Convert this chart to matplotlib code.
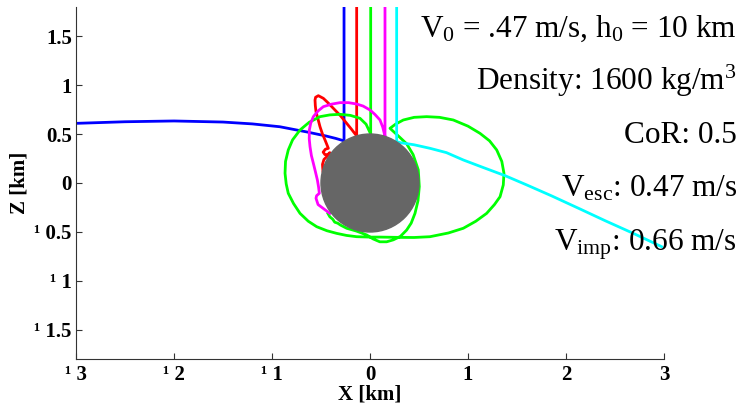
import numpy as np
import matplotlib.pyplot as plt
from matplotlib.patches import Circle

plt.rcParams['font.family'] = ['Liberation Serif', 'DejaVu Serif']
plt.rcParams['mathtext.fontset'] = 'custom'
plt.rcParams['mathtext.rm'] = 'Liberation Serif'
plt.rcParams['mathtext.it'] = 'Liberation Serif:italic'

# trajectories (x, z in km); first point is the drop height
blue_x = [-0.265, -0.265, -0.35, -0.45, -0.64, -0.92, -1.2, -1.5, -2.0, -2.5, -3.05]
blue_z = [10, 0.43, 0.455, 0.48, 0.52, 0.574, 0.603, 0.622, 0.633, 0.625, 0.607]

red_x = [-0.136, -0.136, -0.19, -0.238, -0.30, -0.374, -0.43, -0.476, -0.527, -0.555,
         -0.561, -0.558, -0.551, -0.53, -0.51, -0.485, -0.459, -0.425, -0.455, -0.478,
         -0.46, -0.43, -0.41, -0.44, -0.47, -0.485, -0.48]
red_z = [10, 0.48, 0.55, 0.609, 0.685, 0.762, 0.82, 0.864, 0.891, 0.875,
         0.847, 0.79, 0.728, 0.65, 0.574, 0.50, 0.439, 0.354, 0.345, 0.315,
         0.29, 0.29, 0.31, 0.27, 0.24, 0.19, 0.12]

magenta_x = [0.153, 0.153, 0.13, 0.102, 0.05, 0.0, -0.07, -0.136, -0.22, -0.306, -0.39,
             -0.476, -0.53, -0.578, -0.605, -0.619, -0.62, -0.612, -0.598, -0.578, -0.557,
             -0.537, -0.525, -0.517, -0.545, -0.551, -0.53, -0.49, -0.45, -0.41]
magenta_z = [10, 0.476, 0.57, 0.643, 0.70, 0.745, 0.785, 0.806, 0.82, 0.82, 0.805,
             0.779, 0.735, 0.677, 0.61, 0.541, 0.45, 0.37, 0.28, 0.201, 0.115,
             0.031, -0.04, -0.105, -0.13, -0.156, -0.22, -0.25, -0.28, -0.31]

green_x = [0.007, 0.007, -0.04, -0.102, -0.2, -0.306, -0.41, -0.51, -0.62, -0.714, -0.79,
           -0.834, -0.862, -0.867, -0.855, -0.834, -0.78, -0.714, -0.63, -0.544, -0.44,
           -0.34, -0.24, -0.136, 0.0, 0.102, 0.306, 0.45, 0.612, 0.8, 0.952, 1.08, 1.19,
           1.27, 1.327, 1.36, 1.367, 1.345, 1.293, 1.22, 1.122, 1.0, 0.85, 0.71, 0.578,
           0.45, 0.34, 0.26, 0.204, 0.30, 0.374, 0.44, 0.493, 0.503, 0.49, 0.459, 0.42,
           0.374, 0.31, 0.238, 0.17, 0.1, 0.03, -0.034, -0.14, -0.238, -0.30, -0.33,
           -0.36, -0.38, -0.41, -0.43]
green_z = [10, 0.5, 0.6, 0.66, 0.69, 0.701, 0.695, 0.677, 0.62, 0.541, 0.44,
           0.337, 0.22, 0.099, -0.01, -0.105, -0.21, -0.31, -0.39, -0.446, -0.487,
           -0.514, -0.535, -0.548, -0.552, -0.552, -0.555, -0.556, -0.548, -0.51, -0.462, -0.39, -0.31,
           -0.22, -0.14, -0.02, 0.099, 0.22, 0.337, 0.43, 0.507, 0.58, 0.643, 0.67, 0.677,
           0.67, 0.643, 0.6, 0.558, 0.47, 0.40, 0.29, 0.133, -0.037, -0.18, -0.31, -0.41,
           -0.48, -0.545, -0.58, -0.6, -0.6, -0.57, -0.53, -0.49, -0.462, -0.43, -0.41,
           -0.40, -0.37, -0.345, -0.31]

cyan_x = [0.272, 0.272, 0.306, 0.45, 0.612, 0.78, 0.952, 1.15, 1.378, 1.6, 1.85,
          2.143, 2.4, 2.7, 2.976]
cyan_z = [10, 0.421, 0.412, 0.39, 0.354, 0.31, 0.235, 0.16, 0.075, -0.02, -0.13,
          -0.265, -0.385, -0.52, -0.65]

asteroid_radius = 0.5

info_lines = [r'V$_\mathrm{0}$ = .47 m/s, h$_\mathrm{0}$ = 10 km',
              r'Density: 1600 kg/m$^\mathrm{3}$',
              'CoR: 0.5',
              r'V$_\mathrm{esc}$: 0.47 m/s',
              r'V$_\mathrm{imp}$: 0.66 m/s']

x_ticks = [-3, -2, -1, 0, 1, 2, 3]
x_labels = ['\u00b9 3', '\u00b9 2', '\u00b9 1', '0', '1', '2', '3']
y_ticks = [-1.5, -1, -0.5, 0, 0.5, 1, 1.5]
y_labels = ['\u00b9 1.5', '\u00b9 1', '\u00b9 0.5', '0', '0.5', '1', '1.5']

W, H = 743, 409
fig = plt.figure(figsize=(W / 100, H / 100), dpi=100)
ax = fig.add_axes([76 / W, 1 - 359 / H, 588 / W, 352 / H])

lw = 2.0
ax.plot(blue_x, blue_z, color=(0, 0, 1), lw=lw)
ax.plot(red_x, red_z, color=(1, 0, 0), lw=lw)
ax.plot(green_x, green_z, color=(0, 1, 0), lw=lw)
ax.plot(magenta_x, magenta_z, color=(1, 0, 1), lw=lw)
ax.plot(cyan_x, cyan_z, color=(0, 1, 1), lw=lw)
ax.add_patch(Circle((0, 0), asteroid_radius, color=(0.4, 0.4, 0.4), zorder=5))

ax.set_xlim(-3, 3)
ax.set_ylim(-1.796, 1.796)
ax.set_xticks(x_ticks)
ax.set_xticklabels(x_labels)
ax.set_yticks(y_ticks)
ax.set_yticklabels(y_labels)
for lab in ax.get_xticklabels() + ax.get_yticklabels():
    lab.set_fontweight('bold')
    lab.set_fontsize(15)
ax.tick_params(direction='in', length=4, width=0.8, color='#333333')
ax.tick_params(axis='x', pad=4)
ax.tick_params(axis='y', pad=3)

for s in ['top', 'right']:
    ax.spines[s].set_visible(False)
for s in ['left', 'bottom']:
    ax.spines[s].set_color('#333333')
    ax.spines[s].set_linewidth(0.8)

ax.set_xlabel('X [km]', fontsize=15, fontweight='bold')
ax.set_ylabel('Z [km]', fontsize=15, fontweight='bold')
ax.xaxis.set_label_coords(0.5, (359 - 394) / 352)
ax.xaxis.label.set_va('center')
ax.yaxis.set_label_coords((20 - 76) / 588, 0.5)
ax.yaxis.label.set_va('center')

baselines = [36.7, 90, 143.3, 196.7, 250]
for txt, b in zip(info_lines, baselines):
    fig.text(737 / W, 1 - b / H, txt, ha='right', va='baseline', fontsize=22.5)

fig.savefig('out.png', dpi=100)
